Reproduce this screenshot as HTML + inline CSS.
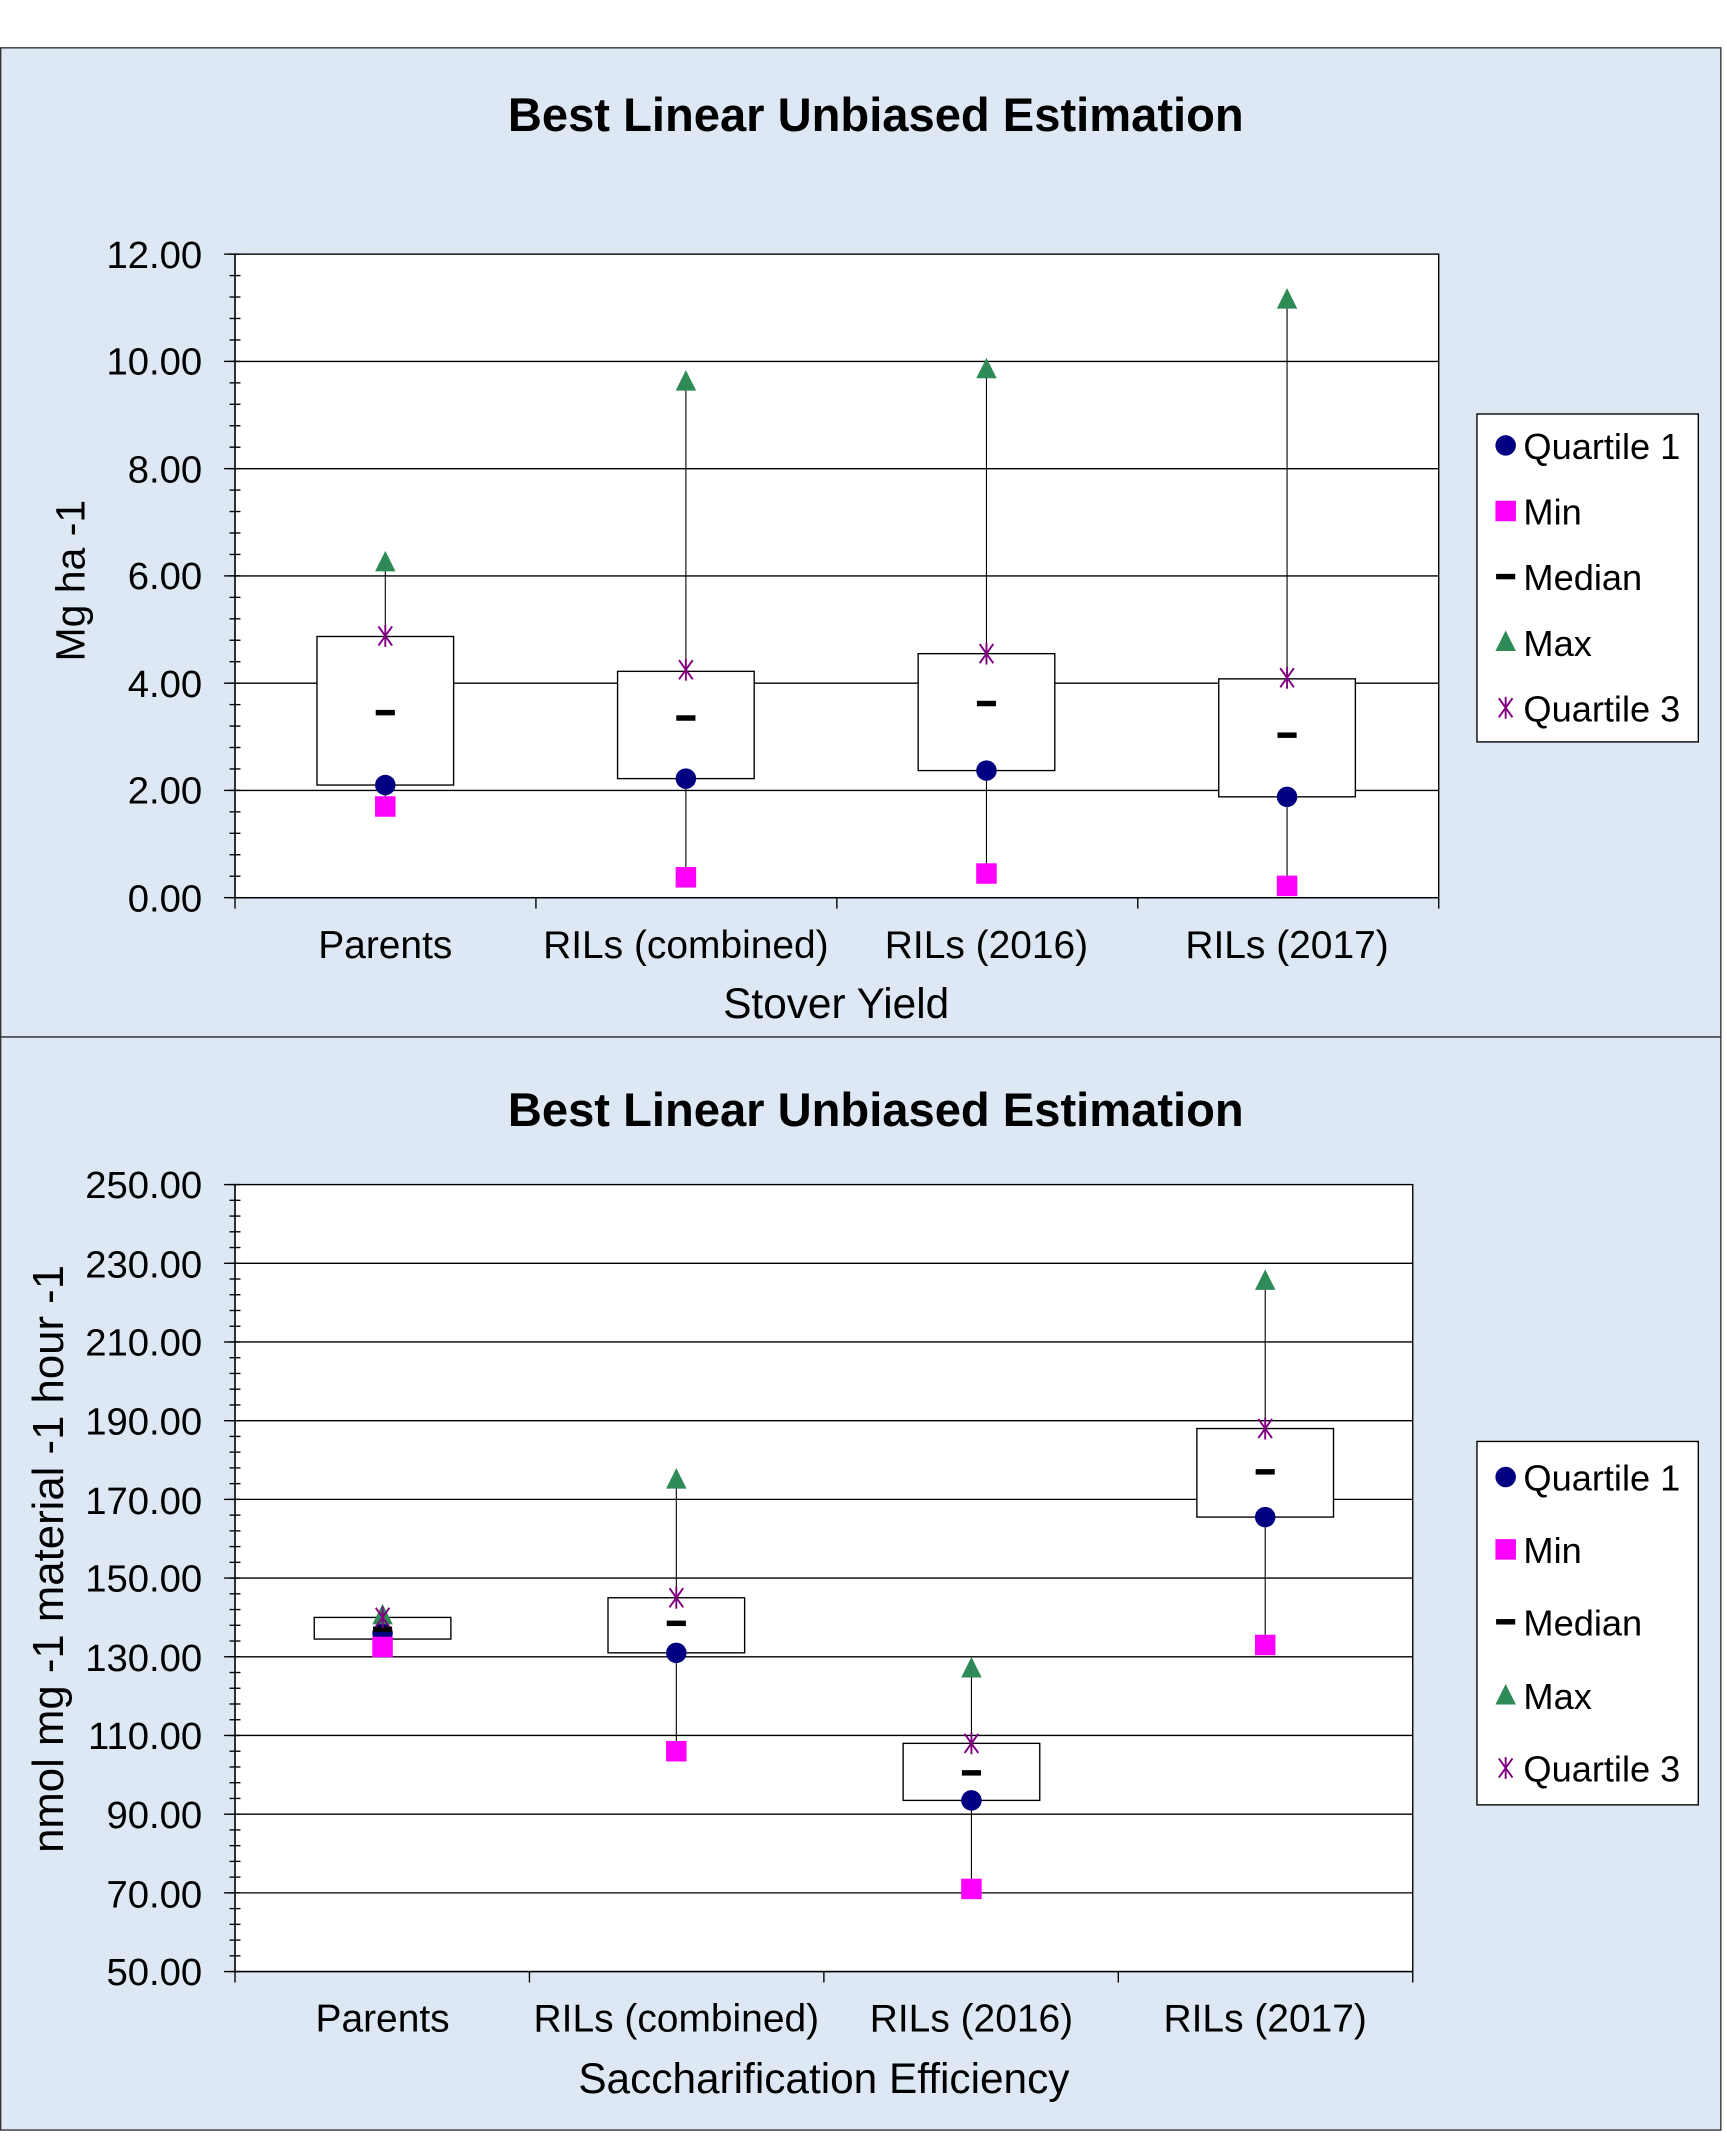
<!DOCTYPE html>
<html><head><meta charset="utf-8"><style>
html,body{margin:0;padding:0;background:#fff}
svg{display:block}
text{font-family:"Liberation Sans",Arial,sans-serif;fill:#000}
</style></head><body>
<svg id="s" width="1727" height="2137" viewBox="0 0 1727 2137" xmlns="http://www.w3.org/2000/svg">
<g id="g" transform="scale(1.3663)">
<rect x="0.5" y="35" width="1259" height="724" fill="#dde8f4" stroke="#333" stroke-width="1"/>
<rect x="0.5" y="759" width="1259" height="800" fill="#dde8f4" stroke="#333" stroke-width="1"/>
<rect x="172" y="186" width="881" height="471" fill="#fff" stroke="#000" stroke-width="1"/>
<rect x="172" y="867" width="862" height="576" fill="#fff" stroke="#000" stroke-width="1"/>
<text x="641" y="96" font-size="34.5" font-weight="bold" text-anchor="middle">Best Linear Unbiased Estimation</text>
<text x="641" y="824" font-size="34.5" font-weight="bold" text-anchor="middle">Best Linear Unbiased Estimation</text>
<g font-size="28" text-anchor="end">
<text x="148" y="667">0.00</text><text x="148" y="588">2.00</text><text x="148" y="510">4.00</text><text x="148" y="431">6.00</text><text x="148" y="353">8.00</text><text x="148" y="274">10.00</text><text x="148" y="196">12.00</text>
<text x="148" y="1453">50.00</text><text x="148" y="1396">70.00</text><text x="148" y="1338">90.00</text><text x="148" y="1280">110.00</text><text x="148" y="1223">130.00</text><text x="148" y="1165">150.00</text><text x="148" y="1108">170.00</text><text x="148" y="1050">190.00</text><text x="148" y="992">210.00</text><text x="148" y="935">230.00</text><text x="148" y="877">250.00</text>
</g>
<g font-size="28.5" text-anchor="middle">
<text x="282" y="701">Parents</text><text x="502" y="701">RILs (combined)</text><text x="722" y="701">RILs (2016)</text><text x="942" y="701">RILs (2017)</text>
<text x="612" y="745" font-size="31">Stover Yield</text>
<text x="280" y="1487">Parents</text><text x="495" y="1487">RILs (combined)</text><text x="711" y="1487">RILs (2016)</text><text x="926" y="1487">RILs (2017)</text>
<text x="603" y="1532" font-size="31">Saccharification Efficiency</text>
<text transform="translate(62,425) rotate(-90)" font-size="30">Mg ha -1</text>
<text transform="translate(46,1141) rotate(-90)" font-size="32">nmol mg -1 material -1 hour -1</text>
</g>
<rect x="1081" y="303" width="162" height="240" fill="#fff" stroke="#000"/>
<rect x="1081" y="1055" width="162" height="266" fill="#fff" stroke="#000"/>
<g font-size="26.5">
<text x="1115" y="336">Quartile 1</text><text x="1115" y="384">Min</text><text x="1115" y="432">Median</text><text x="1115" y="480">Max</text><text x="1115" y="528">Quartile 3</text>
<text x="1115" y="1091">Quartile 1</text><text x="1115" y="1144">Min</text><text x="1115" y="1197">Median</text><text x="1115" y="1251">Max</text><text x="1115" y="1304">Quartile 3</text>
</g>
</g>
</svg>
<script>
var g=document.getElementById('g'),NS='http://www.w3.org/2000/svg';
function el(t,a){var e=document.createElementNS(NS,t);for(var k in a)e.setAttribute(k,a[k]);g.appendChild(e);return e;}
function line(x1,y1,x2,y2,c,w){el('line',{x1:x1,y1:y1,x2:x2,y2:y2,stroke:c||'#000','stroke-width':w||1});}
function marker(type,x,y){
 if(type=='q1')el('circle',{cx:x,cy:y,r:7.5,fill:'#000080'});
 if(type=='min')el('rect',{x:x-7.5,y:y-7.5,width:15,height:15,fill:'#ff00ff'});
 if(type=='med')el('rect',{x:x-7,y:y-2,width:14,height:4,fill:'#000'});
 if(type=='max')el('polygon',{points:(x-7.5)+','+(y+6.5)+' '+(x+7.5)+','+(y+6.5)+' '+x+','+(y-8.5),fill:'#2e8b57'});
 if(type=='q3'){var c='#800080';line(x-5,y-7,x+5,y+7,c,1.4);line(x-5,y+7,x+5,y-7,c,1.4);line(x,y-8,x,y+8,c,1.4);}
}
function chart(x0,x1,top,bot,vmin,vmax,major,minor,cats,data,leg){
 var Y=function(v){return bot-(v-vmin)/(vmax-vmin)*(bot-top);};
 for(var v=vmin+major;v<vmax-1e-6;v+=major)line(x0,Y(v),x1,Y(v),'#000',1);
 for(var v=vmin;v<=vmax+1e-6;v+=minor)line(x0-4,Y(v),x0+4,Y(v));
 for(var v=vmin;v<=vmax+1e-6;v+=major)line(x0-8,Y(v),x0,Y(v));
 var w=(x1-x0)/4;for(var i=0;i<=4;i++)line(x0+i*w,bot,x0+i*w,bot+8);
 line(x0,top,x0,bot);line(x0,bot,x1,bot);
 data.forEach(function(d,i){var x=cats[i];
  line(x,Y(d[0]),x,Y(d[4]),'#000',0.8);
  el('rect',{x:x-50,y:Y(d[6]),width:100,height:Y(d[5])-Y(d[6]),fill:'#fff',stroke:'#000','stroke-width':1});
  marker('q1',x,Y(d[1]));marker('min',x,Y(d[0]));marker('med',x,Y(d[2]));marker('max',x,Y(d[4]));marker('q3',x,Y(d[3]));
 });
 var t=['q1','min','med','max','q3'];t.forEach(function(k,i){marker(k,1102,leg[i]);});
}
chart(172,1053,186,657,0,12,2,0.4,[282,502,722,942],
 [[1.7,2.1,3.45,4.88,6.25,2.1,4.87],[0.38,2.22,3.35,4.25,9.62,2.22,4.22],[0.45,2.37,3.62,4.55,9.85,2.37,4.55],[0.22,1.88,3.03,4.1,11.15,1.88,4.08]],
 [326,374,422,470,518]);
chart(172,1034,867,1443,50,250,20,4,[280,495,711,926],
 [[132.5,136,137,140,140.5,134.5,140],[106,131,138.5,145,175,131,145],[71,93.5,100.5,108,127,93.5,108],[133,165.5,177,188,225.5,165.5,188]],
 [1081,1134,1187,1241,1294]);
</script>
</body></html>
